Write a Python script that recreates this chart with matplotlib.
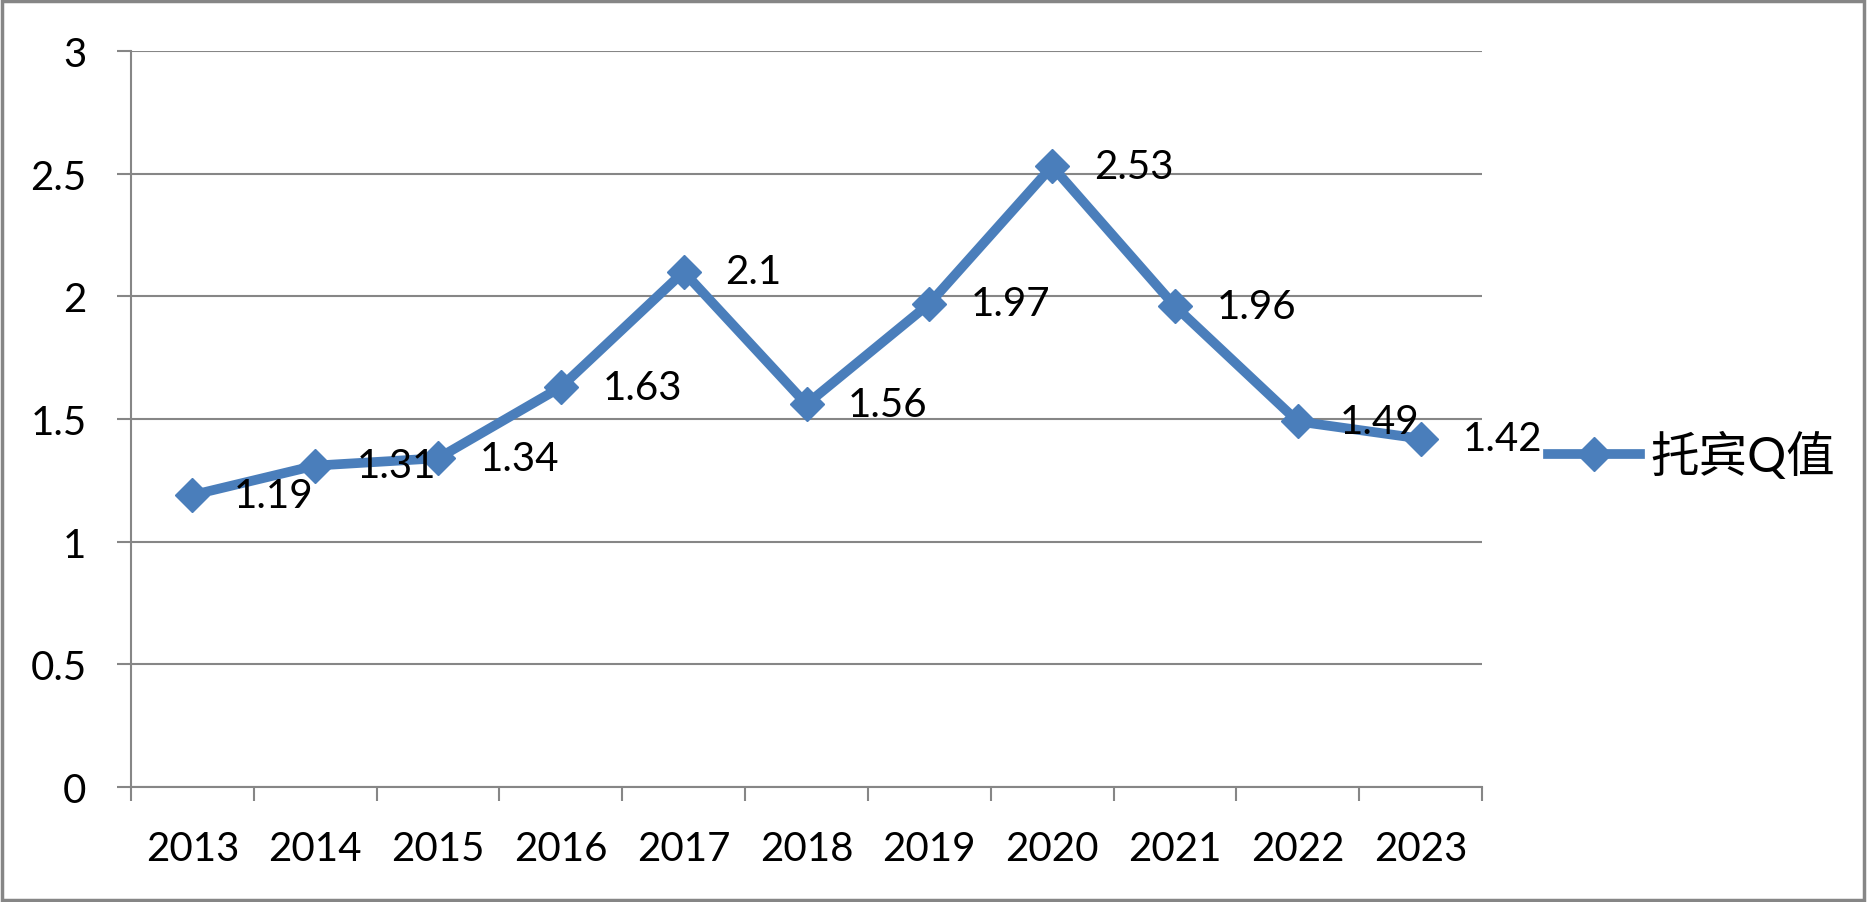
import matplotlib
matplotlib.use("Agg")
import matplotlib.pyplot as plt
from matplotlib.patches import Rectangle
from matplotlib.ticker import FuncFormatter, MultipleLocator

# ---------- DATA ----------
years = ["2013", "2014", "2015", "2016", "2017", "2018",
         "2019", "2020", "2021", "2022", "2023"]
tobin_q = [1.19, 1.31, 1.34, 1.63, 2.1, 1.56, 1.97, 2.53, 1.96, 1.49, 1.42]
series_name = "托宾Q值"

# ---------- STYLE ----------
line_color = "#4A7EBB"
grid_color = "#868686"
plt.rcParams["font.family"] = ["Lato", "Noto Sans CJK SC", "DejaVu Sans"]
font_size = 29

fig = plt.figure(figsize=(18.68, 9.03), dpi=100)
ax = fig.add_axes([131 / 1868, 1 - 788 / 903, (1482 - 131) / 1868, (788 - 52) / 903])

x = list(range(len(years)))
ax.plot(x, tobin_q, color=line_color, linewidth=7, marker="D",
        markersize=17, label=series_name, solid_joinstyle="miter")

# data labels to the right of each point
for xi, val in zip(x, tobin_q):
    ax.annotate(f"{val:g}", (xi, val), xytext=(30, 0), textcoords="offset points",
                ha="left", va="center", fontsize=font_size, color="black")

# axes limits and ticks
ax.set_xlim(-0.5, len(years) - 0.5)
ax.set_ylim(0, 3)
ax.yaxis.set_major_locator(MultipleLocator(0.5))
ax.yaxis.set_major_formatter(FuncFormatter(lambda v, p: f"{v:g}"))
ax.set_xticks(x)
ax.set_xticklabels(years)
ax.set_xticks([i - 0.5 for i in range(len(years) + 1)], minor=True)
ax.tick_params(axis="x", which="major", length=0, pad=31, labelsize=font_size)
ax.tick_params(axis="x", which="minor", length=10, width=1.5, color=grid_color)
ax.tick_params(axis="y", which="major", length=10, width=1.5, color=grid_color,
               pad=22, labelsize=font_size)

ax.grid(axis="y", color=grid_color, linewidth=1.5)
ax.set_axisbelow(True)
for side in ["top", "right"]:
    ax.spines[side].set_visible(False)
for side in ["left", "bottom"]:
    ax.spines[side].set_color(grid_color)
    ax.spines[side].set_linewidth(1.5)

# legend on the right
fig.legend(loc="center left", bbox_to_anchor=(1548 / 1868, 1 - 456 / 903),
           frameon=False, fontsize=35, handlelength=1.9, handletextpad=0.2,
           borderpad=0, borderaxespad=0)

# chart border
fig.patches.append(Rectangle((0.001, 0.002), 0.997, 0.996, transform=fig.transFigure,
                             fill=False, edgecolor=grid_color, linewidth=2.5))

fig.savefig("out.png", dpi=100)
